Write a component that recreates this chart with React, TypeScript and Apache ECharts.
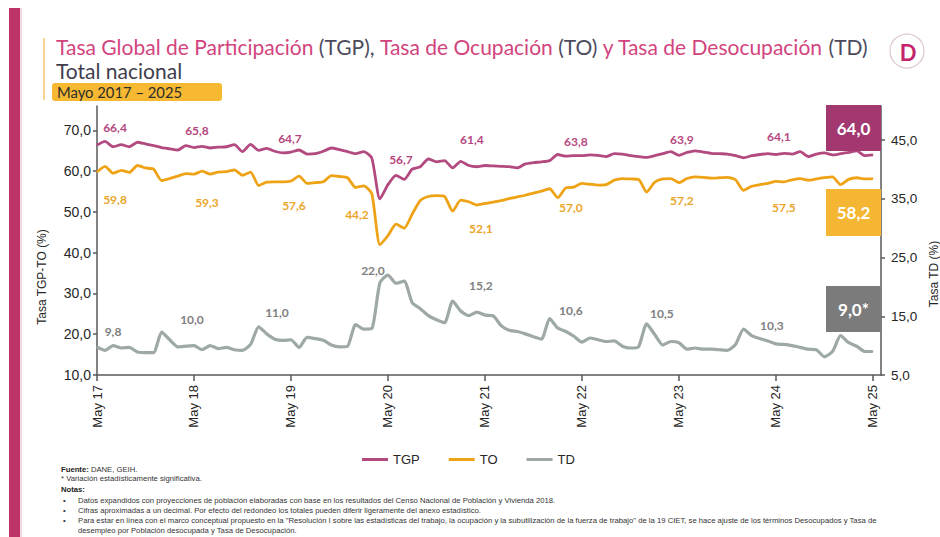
import React, { useEffect, useRef } from 'react';
import * as echarts from 'echarts';

// ---------- DATA ----------
const MONTHS_ES = ['Ene', 'Feb', 'Mar', 'Abr', 'May', 'Jun', 'Jul', 'Ago', 'Sep', 'Oct', 'Nov', 'Dic'];
const START_MONTH = 4; // May
const START_YEAR = 17;
const N_CATEGORIES = 98; // May 17 .. Jun 25 (last one is an empty slot)
const categories = Array.from({ length: N_CATEGORIES }, (_, i) =>
  `${MONTHS_ES[(START_MONTH + i) % 12]} ${START_YEAR + Math.floor((START_MONTH + i) / 12)}`
);

const TGP = [
  66.4, 67.3, 66.0, 66.5, 66.0, 67.1, 66.7, 66.3, 65.8, 65.5, 65.2, 66.3,
  65.8, 66.1, 65.7, 65.9, 66.0, 66.5, 64.8, 66.6, 65.1, 65.6, 64.9, 64.5,
  64.7, 65.2, 64.2, 64.3, 64.9, 65.7, 65.3, 64.8, 64.3, 64.8, 63.2, 53.2,
  56.7, 59.0, 58.0, 60.5, 61.1, 63.0, 62.3, 62.6, 60.8, 62.4, 61.4, 61.1,
  61.4, 61.3, 61.2, 61.1, 60.8, 61.8, 62.1, 62.3, 62.6, 64.1, 63.7, 63.8,
  63.8, 64.0, 63.9, 63.6, 64.3, 64.2, 63.8, 63.6, 63.4, 63.8, 64.3, 64.8,
  63.9, 64.6, 65.0, 64.7, 64.4, 64.3, 64.2, 63.8, 63.3, 63.8, 64.1, 64.3,
  64.1, 64.4, 64.2, 64.8, 63.6, 64.2, 64.5, 64.0, 64.3, 64.6, 65.0, 63.8,
  64.0,
];
const TO = [
  59.8, 61.2, 59.5, 60.2, 59.7, 61.4, 60.8, 60.5, 57.7, 58.2, 58.8, 59.4,
  59.3, 60.0, 59.3, 59.8, 59.9, 60.3, 59.0, 59.8, 56.5, 57.3, 57.4, 57.4,
  57.6, 58.8, 57.0, 57.2, 57.4, 58.9, 58.7, 58.4, 56.0, 56.4, 54.5, 42.0,
  44.2, 47.0, 46.0, 49.5, 52.8, 53.8, 54.0, 53.8, 50.2, 52.9, 52.5, 51.7,
  52.1, 52.4, 52.8, 53.3, 53.7, 54.1, 54.6, 55.1, 55.7, 53.5, 55.9, 56.1,
  57.0, 56.8, 56.6, 56.7, 57.8, 58.2, 58.1, 58.0, 54.9, 57.3, 58.1, 58.2,
  57.2, 58.2, 58.6, 58.5, 58.3, 58.4, 58.5, 57.9, 55.3, 56.3, 56.7, 57.0,
  57.5, 57.4, 57.9, 58.2, 57.8, 58.1, 58.4, 58.6, 56.7, 58.0, 58.4, 58.1,
  58.2,
];
const TD = [
  9.8, 9.2, 10.0, 9.6, 9.7, 8.9, 8.8, 8.8, 12.3, 11.0, 9.8, 9.9,
  10.0, 9.3, 10.0, 9.5, 9.7, 9.3, 9.2, 10.2, 13.2, 12.0, 11.1, 10.9,
  11.0, 9.7, 11.4, 11.2, 10.9, 10.1, 9.8, 9.9, 13.6, 12.8, 12.9, 20.7,
  22.0, 20.6, 21.0, 17.3, 16.3, 15.1, 14.4, 13.9, 17.6, 15.9, 15.1, 15.7,
  15.2, 15.1, 13.4, 12.6, 12.4, 12.0, 11.5, 11.1, 14.6, 13.0, 12.4, 11.6,
  10.6, 11.3, 11.0, 10.7, 10.8, 9.9, 9.6, 9.8, 13.7, 11.9, 10.1, 10.7,
  10.5, 9.4, 9.6, 9.4, 9.4, 9.3, 9.2, 10.2, 12.8, 11.7, 11.2, 10.8,
  10.3, 10.2, 10.0, 9.7, 9.4, 9.3, 8.1, 9.0, 11.7, 10.5, 9.9, 9.0,
  9.0,
];

const LABEL_IDX = [0, 12, 24, 36, 48, 60, 72, 84];
const LEFT_TICKS = [10, 20, 30, 40, 50, 60, 70];
const RIGHT_TICKS = [5, 15, 25, 35, 45];
const LAST_TGP = '64,0';
const LAST_TO = '58,2';
const LAST_TD = '9,0*';

// ---------- STYLE ----------
const TGP_OFF = [[18, -18], [3, -17], [-1, -14], [13, -25], [-13, -26], [-6, -14], [3, -16], [3, -18]];
const TO_OFF = [[18, 27], [13, 28], [3, 25], [-31, -21], [-4, 25], [-11, 24], [3, 18], [8, 26]];
const TD_OFF = [[16, -15], [-2, -26], [-14, -27], [-15, -5], [-4, -30], [-11, -32], [-17, -29], [-4, -18]];

const C_TGP = '#b24a80';
const C_TO = '#eea316';
const C_TD = '#9ea9a5';
const SANS = 'Liberation Sans, Arial, sans-serif';
const HUM = 'Lato, Open Sans, sans-serif';

const fmt = (v: number) => v.toFixed(1).replace('.', ',');

function buildData(values: number[], offsets: number[][], color: string) {
  return values.map((v, i) => {
    const k = LABEL_IDX.indexOf(i);
    if (k < 0) return v;
    return {
      value: v,
      label: {
        show: true,
        position: 'inside',
        offset: offsets[k],
        formatter: () => fmt(v),
        color,
        fontSize: 12,
        fontWeight: 'bold',
        fontFamily: HUM,
      },
    };
  });
}

const NOTE_FONT = 7.7;
const TITLE_FONT = 21;

export default function App() {
  const ref = useRef<HTMLDivElement>(null);

  useEffect(() => {
    if (!ref.current) return;
    const chart = echarts.init(ref.current, null, { renderer: 'svg' });

    const seriesBase = {
      type: 'line',
      symbol: 'circle',
      symbolSize: 1,
      showSymbol: true,
      showAllSymbol: true,
      smooth: 0.2,
      z: 3,
    };

    const noteText = (x: number, y: number, text: string, rich?: any) => ({
      type: 'text',
      x,
      y,
      style: {
        text,
        fontSize: NOTE_FONT,
        fontFamily: SANS,
        fill: '#333',
        verticalAlign: 'middle',
        rich,
      },
    });

    const box = (y: number, h: number, fill: string, text: string) => [
      {
        type: 'rect',
        z: 100,
        shape: { x: 826, y, width: 55, height: h },
        style: { fill },
      },
      {
        type: 'text',
        z: 101,
        x: 853.5,
        y: y + h / 2,
        style: {
          text,
          fill: '#fff',
          fontSize: 17,
          fontWeight: 'bold',
          fontFamily: HUM,
          align: 'center',
          verticalAlign: 'middle',
        },
      },
    ];

    const option: any = {
      animation: false,
      backgroundColor: '#ffffff',
      grid: { left: 97, right: 59, top: 106, bottom: 162, containLabel: false },
      legend: {
        data: ['TGP', 'TO', 'TD'],
        left: 362,
        top: 453,
        padding: 0,
        icon: 'rect',
        itemWidth: 26,
        itemHeight: 3,
        itemGap: 29,
        textStyle: { fontSize: 13, color: '#262626', fontFamily: SANS },
      },
      xAxis: {
        type: 'category',
        data: categories,
        boundaryGap: false,
        axisLine: { lineStyle: { color: '#595959', width: 1.5 } },
        axisTick: { show: true, interval: 11, length: 6, lineStyle: { color: '#595959', width: 1.5 } },
        axisLabel: {
          interval: 11,
          rotate: 90,
          margin: 10,
          fontSize: 13,
          color: '#262626',
          fontFamily: SANS,
          formatter: (v: string) => (v.startsWith('May') ? v : ''),
        },
        splitLine: { show: false },
      },
      yAxis: [
        {
          type: 'value',
          position: 'left',
          min: 10,
          max: 76,
          axisLine: { show: true, lineStyle: { color: '#595959', width: 1.5 } },
          axisTick: { show: true, length: 4, customValues: LEFT_TICKS, lineStyle: { color: '#595959', width: 1.5 } },
          axisLabel: {
            customValues: LEFT_TICKS,
            formatter: (v: number) => fmt(v),
            fontSize: 14,
            margin: 6,
            color: '#262626',
            fontFamily: SANS,
          },
          splitLine: { show: false },
        },
        {
          type: 'value',
          position: 'right',
          min: 5,
          max: 50.8,
          axisLine: { show: true, lineStyle: { color: '#595959', width: 1.5 } },
          axisTick: { show: true, length: 4, customValues: RIGHT_TICKS, lineStyle: { color: '#595959', width: 1.5 } },
          axisLabel: {
            customValues: RIGHT_TICKS,
            formatter: (v: number) => fmt(v),
            fontSize: 13.5,
            margin: 10,
            color: '#262626',
            fontFamily: SANS,
          },
          splitLine: { show: false },
        },
      ],
      series: [
        {
          ...seriesBase,
          name: 'TGP',
          yAxisIndex: 0,
          data: buildData(TGP, TGP_OFF, '#b5477f'),
          lineStyle: { color: C_TGP, width: 2.8 },
          itemStyle: { color: C_TGP },
        },
        {
          ...seriesBase,
          name: 'TO',
          yAxisIndex: 0,
          data: buildData(TO, TO_OFF, '#eaa52b'),
          lineStyle: { color: C_TO, width: 2.8 },
          itemStyle: { color: C_TO },
        },
        {
          ...seriesBase,
          name: 'TD',
          yAxisIndex: 1,
          data: buildData(TD, TD_OFF, '#808080'),
          lineStyle: { color: C_TD, width: 3.2 },
          itemStyle: { color: C_TD },
        },
      ],
      graphic: [
        { type: 'rect', shape: { x: 9, y: 8, width: 11, height: 529 }, style: { fill: '#bd3468' } },
        { type: 'rect', shape: { x: 20, y: 8, width: 2, height: 529 }, style: { fill: '#f4d9e4' } },
        { type: 'line', shape: { x1: 44, y1: 38, x2: 44, y2: 100 }, style: { stroke: '#f5c46b', lineWidth: 1.5 } },
        {
          type: 'text',
          x: 56,
          y: 46,
          style: {
            text: '{p|Tasa Global de Participación} {d|(TGP),} {p|Tasa de Ocupación} {d|(TO)} {p|y Tasa de Desocupación} {d|(TD)}',
            fontSize: TITLE_FONT,
            fontFamily: HUM,
            fill: '#d2447e',
            verticalAlign: 'middle',
            rich: {
              p: { fill: '#d2447e', fontSize: TITLE_FONT, fontFamily: HUM },
              d: { fill: '#4d4a5e', fontSize: TITLE_FONT, fontFamily: HUM },
            },
          },
        },
        {
          type: 'text',
          x: 56,
          y: 70,
          style: { text: 'Total nacional', fontSize: TITLE_FONT, fontFamily: HUM, fill: '#3f3d4e', verticalAlign: 'middle' },
        },
        { type: 'rect', shape: { x: 52, y: 83, width: 170, height: 18, r: 3 }, style: { fill: '#f7b932' } },
        {
          type: 'text',
          x: 57,
          y: 92,
          style: { text: 'Mayo 2017 – 2025', fontSize: 14.8, fontFamily: HUM, fill: '#2d2d2d', verticalAlign: 'middle' },
        },
        { type: 'circle', shape: { cx: 907, cy: 51, r: 17 }, style: { fill: '#fff', stroke: '#dcc7d2', lineWidth: 1.2 } },
        {
          type: 'text',
          x: 908,
          y: 52,
          style: { text: 'D', fontSize: 22, fontWeight: 'bold', fontFamily: HUM, fill: '#c4246a', align: 'center', verticalAlign: 'middle' },
        },
        {
          type: 'text',
          x: 42,
          y: 277,
          rotation: Math.PI / 2,
          style: { text: 'Tasa TGP-TO (%)', fontSize: 12, fontFamily: SANS, fill: '#262626', align: 'center', verticalAlign: 'middle' },
        },
        {
          type: 'text',
          x: 934,
          y: 274,
          rotation: Math.PI / 2,
          style: { text: 'Tasa TD (%)', fontSize: 12, fontFamily: SANS, fill: '#262626', align: 'center', verticalAlign: 'middle' },
        },
        ...box(105, 46, '#a3376f', LAST_TGP),
        ...box(189, 47, '#f5b733', LAST_TO),
        ...box(286, 46, '#7b7b7b', LAST_TD),
        noteText(61, 469, '{b|Fuente:} DANE, GEIH.', { b: { fontWeight: 'bold', fontSize: NOTE_FONT, fontFamily: SANS, fill: '#222' } }),
        noteText(61, 478.5, '* Variación estadísticamente significativa.'),
        noteText(61, 489, '{b|Notas:}', { b: { fontWeight: 'bold', fontSize: NOTE_FONT, fontFamily: SANS, fill: '#222' } }),
        noteText(63, 500, '•'),
        noteText(78, 500, 'Datos expandidos con proyecciones de población elaboradas con base en los resultados del Censo Nacional de Población y Vivienda 2018.'),
        noteText(63, 510, '•'),
        noteText(78, 510, 'Cifras aproximadas a un decimal. Por efecto del redondeo los totales pueden diferir ligeramente del anexo estadístico.'),
        noteText(63, 520, '•'),
        noteText(78, 520, 'Para estar en línea con el marco conceptual propuesto en la "Resolución I sobre las estadísticas del trabajo, la ocupación y la subutilización de la fuerza de trabajo" de la 19 CIET, se hace ajuste de los términos Desocupados y Tasa de'),
        noteText(78, 530, 'desempleo por Población desocupada y Tasa de Desocupación.'),
      ],
    };

    chart.setOption(option);
    return () => chart.dispose();
  }, []);

  return (
    <div
      ref={ref}
      style={{ position: 'absolute', left: 0, top: 0, width: 940, height: 537, background: '#fff' }}
    />
  );
}
